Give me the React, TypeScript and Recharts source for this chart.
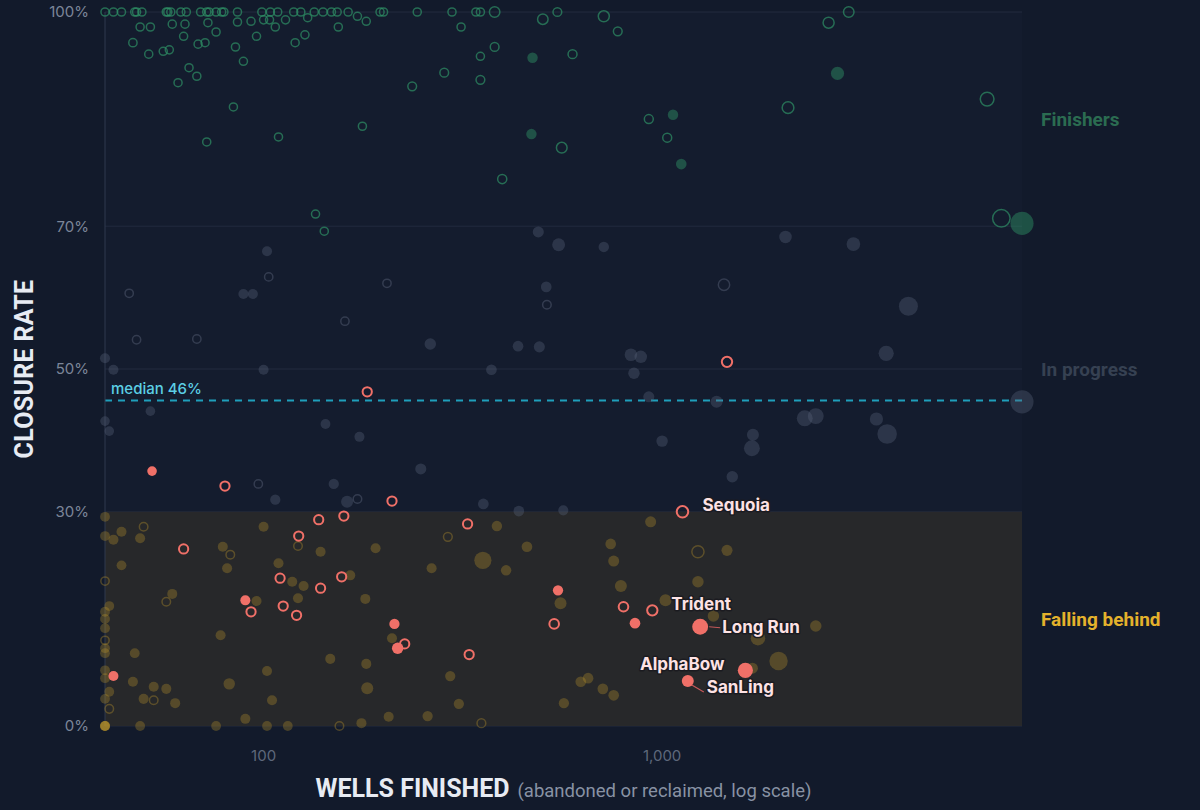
import React from 'react';
import {
  ScatterChart,
  Scatter,
  XAxis,
  YAxis,
  ZAxis,
  CartesianGrid,
  ReferenceArea,
  ReferenceLine,
} from 'recharts';

// [wells finished, closure rate %, wells licensed, solid (1) or open (0)]
type Pt = [number, number, number, number];
// [operator, wells finished, closure rate %, wells licensed, solid]
type Named = [string, number, number, number, number];

const X_TICKS = [100, 1000];
const Y_TICKS = [0, 30, 50, 70, 100];
const MEDIAN_RATE = 45.6;

const finishers: Pt[] = [
  [40, 100, 300, 0], [42, 100, 300, 0], [44, 100, 300, 0], [47.5, 100, 300, 0], [48, 100, 300, 0],
  [49.5, 100, 300, 0], [57, 100, 300, 0], [57.5, 100, 300, 0], [58.5, 100, 300, 0], [62, 100, 300, 0],
  [64, 100, 300, 0], [69.5, 100, 300, 0], [72, 100, 300, 0], [73, 100, 300, 0], [76, 100, 300, 0],
  [78.5, 100, 300, 0], [79.5, 100, 300, 0], [86, 100, 300, 0], [99, 100, 300, 0], [104, 100, 300, 0],
  [108.5, 100, 300, 0], [119, 100, 300, 0], [124, 100, 300, 0], [134, 100, 300, 0], [141, 100, 300, 0],
  [148, 100, 300, 0], [153, 100, 300, 0], [163, 100, 300, 0], [196, 100, 300, 0], [200, 100, 300, 0],
  [243, 100, 300, 0], [297, 100, 300, 0], [341, 100, 300, 0], [350, 100, 300, 0], [380, 100, 1500, 0],
  [546, 100, 600, 0], [2940, 100, 1500, 0], [172, 99.4, 300, 0], [181, 98.7, 300, 0], [714, 99.4, 1800, 0],
  [502, 99.0, 1500, 0], [2617, 98.5, 1800, 0],
  [49, 97.9, 300, 0], [52, 97.9, 300, 0], [47, 95.7, 400, 0], [51.5, 94.1, 300, 0], [56, 94.5, 300, 0],
  [58, 94.7, 300, 0], [59, 98.3, 300, 0], [63.5, 98.3, 300, 0], [63, 96.6, 300, 0], [65, 92.2, 300, 0],
  [68, 91.0, 300, 0], [61, 90.1, 300, 0], [68.5, 95.5, 300, 0], [71.3, 95.7, 300, 0], [72.5, 98.5, 300, 0],
  [76, 97.2, 300, 0], [85, 95.1, 300, 0], [86, 98.6, 300, 0], [89, 93.1, 300, 0], [93, 98.7, 300, 0],
  [96, 96.6, 300, 0], [100, 98.9, 300, 0], [103.5, 98.9, 300, 0], [107, 97.9, 300, 0], [113.5, 98.9, 300, 0],
  [120, 95.7, 300, 0], [127, 96.8, 300, 0], [129, 99.2, 300, 0], [154, 97.9, 300, 0], [84, 86.7, 300, 0],
  [72, 81.8, 300, 0], [109, 82.5, 300, 0], [177, 84.0, 300, 0], [135, 71.7, 300, 0], [142, 69.3, 300, 0],
  [313, 97.9, 300, 0], [350, 93.8, 300, 0], [380, 95.1, 600, 0], [350, 90.5, 600, 0], [284, 91.5, 600, 0],
  [236, 89.6, 600, 0], [397, 76.6, 800, 0], [596, 94.1, 700, 0], [560, 81.0, 1600, 0], [774, 97.3, 600, 0],
  [926, 85.0, 700, 0], [1030, 82.4, 700, 0], [2070, 86.6, 2200, 0], [6540, 87.8, 3500, 0], [7100, 71.1, 6500, 0],
  [473, 93.6, 700, 1], [470, 82.9, 700, 1], [1065, 85.6, 700, 1], [1117, 78.7, 800, 1], [2755, 91.4, 2200, 1],
  [8000, 70.4, 10500, 1],
];

const inProgress: Pt[] = [
  [40, 51.5, 500, 1], [42, 49.9, 500, 1], [52, 44.1, 300, 1], [40, 42.7, 300, 1], [41, 41.3, 300, 1],
  [89, 60.5, 500, 1], [94, 60.5, 500, 1], [102, 66.5, 500, 1], [100, 49.9, 500, 1], [143, 42.3, 400, 1],
  [174, 40.5, 500, 1], [248, 36.0, 1000, 1], [150, 33.9, 600, 1], [162, 31.4, 1500, 1], [107, 31.7, 600, 1],
  [262, 53.5, 1200, 1], [373, 49.9, 800, 1], [356, 31.1, 800, 1], [435, 53.2, 800, 1], [492, 53.1, 1000, 1],
  [512, 61.5, 800, 1], [489, 69.2, 1000, 1], [550, 67.4, 2000, 1], [437, 30.1, 800, 1], [565, 30.2, 500, 1],
  [714, 67.1, 700, 1], [2040, 68.5, 1800, 1], [3020, 67.5, 2500, 1], [4150, 58.8, 6500, 1], [835, 52.0, 1800, 1],
  [884, 51.7, 1800, 1], [850, 49.4, 1200, 1], [3650, 52.2, 3500, 1], [926, 46.1, 1000, 1], [1370, 45.4, 1500, 1],
  [8000, 45.4, 10500, 1], [2280, 43.1, 4000, 1], [2430, 43.4, 4000, 1], [3450, 43.0, 2200, 1], [3670, 40.9, 7000, 1],
  [1690, 40.8, 1500, 1], [1680, 38.9, 4000, 1], [1000, 39.9, 1200, 1], [1500, 34.9, 1200, 1],
  [46, 60.6, 400, 0], [48, 54.1, 400, 0], [68, 54.2, 400, 0], [103, 62.9, 400, 0], [160, 56.7, 400, 0],
  [204, 62.0, 400, 0], [514, 59.0, 500, 0], [172, 31.8, 500, 0], [97, 33.9, 400, 0], [1430, 61.8, 2000, 0],
];

const fallingBehind: Pt[] = [
  [40, 29.3, 400, 1], [40, 26.6, 400, 1], [42, 26.1, 500, 1], [44, 27.2, 500, 1], [49, 26.3, 500, 1],
  [44, 22.5, 400, 1], [41, 16.8, 400, 1], [40, 16.0, 400, 1], [40, 15.0, 400, 1], [40, 13.7, 400, 1],
  [40, 10.9, 400, 1], [40, 10.2, 400, 1], [40, 7.8, 400, 1], [40, 6.7, 400, 1], [41, 4.8, 400, 1],
  [40, 3.8, 400, 1], [40, 0, 400, 1], [40, 0, 400, 1], [40, 0, 400, 1], [40, 0, 400, 1],
  [47.5, 10.2, 400, 1], [47, 6.2, 500, 1], [53, 5.5, 500, 1], [57, 5.2, 500, 1], [50, 3.8, 500, 1],
  [60, 3.2, 500, 1], [49, 0, 400, 1], [59, 18.5, 500, 1], [78, 12.7, 500, 1], [82, 5.9, 1200, 1],
  [76, 0, 400, 1], [79, 25.1, 500, 1], [81, 22.1, 500, 1], [90, 1.0, 500, 1], [100, 27.9, 500, 1],
  [102, 7.7, 500, 1], [105, 3.6, 500, 1], [102, 0, 400, 1], [109, 22.8, 500, 1], [118, 20.2, 500, 1],
  [126, 19.6, 500, 1], [122, 17.9, 500, 1], [96, 17.5, 500, 1], [139, 24.4, 500, 1], [147, 9.4, 500, 1],
  [115, 0, 400, 1], [165, 21.1, 500, 1], [180, 17.8, 500, 1], [191, 24.9, 500, 1], [181, 8.7, 500, 1],
  [182, 5.3, 1500, 1], [176, 0.4, 500, 1], [206, 1.3, 500, 1], [210, 12.3, 500, 1], [385, 28.0, 700, 1],
  [458, 25.1, 800, 1], [355, 23.2, 5000, 1], [264, 22.1, 500, 1], [406, 21.8, 700, 1], [556, 17.2, 1500, 1],
  [743, 25.5, 800, 1], [756, 23.1, 1000, 1], [788, 19.6, 1500, 1], [936, 28.6, 1000, 1], [1455, 24.6, 1000, 1],
  [1230, 20.2, 1200, 1], [1020, 17.6, 1500, 1], [1345, 15.4, 1200, 1], [1740, 12.3, 3000, 1], [2430, 14.0, 1200, 1],
  [1960, 9.1, 6000, 1], [1685, 8.1, 1000, 1], [294, 7.0, 600, 1], [309, 3.1, 600, 1], [258, 1.4, 600, 1],
  [567, 3.2, 600, 1], [625, 6.2, 800, 1], [652, 6.7, 800, 1], [710, 5.2, 800, 1], [756, 4.3, 800, 1],
  [50, 27.9, 500, 0], [40, 20.3, 400, 0], [40, 12.0, 400, 0], [41, 2.4, 500, 0], [57, 17.4, 500, 0],
  [82.5, 24.0, 500, 0], [122, 25.2, 500, 0], [155, 0, 500, 0], [53, 3.6, 500, 0], [290, 26.5, 600, 0],
  [352, 0.4, 600, 0], [1230, 24.4, 2500, 0],
];

const flagged: Named[] = [
  ['', 42, 7.0, 500, 1], ['', 52.5, 35.7, 300, 1], ['', 90, 17.6, 500, 1], ['', 213, 14.3, 600, 1],
  ['', 217, 10.9, 1200, 1], ['', 548, 19.0, 600, 1], ['', 855, 14.4, 800, 1],
  ['Long Run', 1246, 13.9, 4000, 1], ['AlphaBow', 1618, 7.8, 3500, 1], ['SanLing', 1160, 6.3, 1500, 1],
  ['', 182, 46.8, 1100, 0], ['', 63, 24.8, 1100, 0], ['', 80, 33.6, 1100, 0], ['', 93, 16.0, 1100, 0],
  ['', 110, 20.7, 1100, 0], ['', 112, 16.8, 1100, 0], ['', 121, 15.5, 1100, 0], ['', 122.5, 26.6, 1100, 0],
  ['', 137.5, 28.9, 1100, 0], ['', 139, 19.3, 1100, 0], ['', 159, 29.4, 1100, 0], ['', 157, 20.9, 1100, 0],
  ['', 210, 31.5, 1100, 0], ['', 226, 11.5, 1100, 0], ['', 325, 28.3, 1100, 0], ['', 328, 10.0, 1100, 0],
  ['', 536, 14.3, 1300, 0], ['', 800, 16.7, 1300, 0], ['', 1455, 51.0, 1700, 0],
  ['Sequoia', 1125, 30.0, 2400, 0], ['Trident', 945, 16.2, 1700, 0],
];

const BAND_LABELS = [
  { y: 85, text: 'Finishers', color: '#2b6c51' },
  { y: 50, text: 'In progress', color: '#364152' },
  { y: 15, text: 'Falling behind', color: '#e4b22c' },
];

const LABEL_POS: Record<string, { dx: number; dy: number; anchor: 'start' | 'end'; leader?: number[] }> = {
  Sequoia: { dx: 20, dy: -7, anchor: 'start' },
  Trident: { dx: 19, dy: -6, anchor: 'start' },
  'Long Run': { dx: 22, dy: 0, anchor: 'start', leader: [9, 0, 20, 1] },
  AlphaBow: { dx: -21, dy: -6, anchor: 'end' },
  SanLing: { dx: 19, dy: 6, anchor: 'start', leader: [4, 4, 16, 11] },
};

const toRows = (pts: Pt[]) =>
  pts.map(([wells, rate, licensed, solid]) => ({ wells, rate, licensed, solid }));
const flaggedRows = flagged.map(([name, wells, rate, licensed, solid]) => ({ name, wells, rate, licensed, solid }));
const namedRows = flaggedRows.filter((r) => r.name);

const makeDot = (color: string, fillOpacity: number, strokeOpacity: number, strokeWidth: number) =>
  (props: any) => {
    const { cx, cy, payload } = props;
    if (cx == null || cy == null) return <g />;
    const r = props.width ? props.width / 2 : Math.sqrt((props.size ?? 64) / Math.PI);
    if (payload.solid) {
      return <circle cx={cx} cy={cy} r={r} fill={color} fillOpacity={fillOpacity} />;
    }
    return (
      <circle
        cx={cx}
        cy={cy}
        r={Math.max(r - strokeWidth / 2, 1)}
        fill="none"
        stroke={color}
        strokeOpacity={strokeOpacity}
        strokeWidth={strokeWidth}
      />
    );
  };

const nameLabel = (props: any) => {
  const { cx, cy, payload } = props;
  const pos = LABEL_POS[payload?.name];
  if (cx == null || !pos) return <g />;
  return (
    <g>
      {pos.leader && (
        <line
          x1={cx + pos.leader[0]}
          y1={cy + pos.leader[1]}
          x2={cx + pos.leader[2]}
          y2={cy + pos.leader[3]}
          stroke="#c4585a"
          strokeWidth={1.2}
        />
      )}
      <text
        x={cx + pos.dx}
        y={cy + pos.dy}
        textAnchor={pos.anchor}
        dominantBaseline="central"
        fontSize={17}
        fontWeight={700}
        fill="#fde2e4"
        stroke="#1b1b20"
        strokeWidth={3}
        strokeLinejoin="round"
        paintOrder="stroke"
      >
        {payload.name}
      </text>
    </g>
  );
};

export default function App() {
  return (
    <div
      style={{
        position: 'relative',
        width: 1200,
        height: 810,
        background: '#121a2b',
        fontFamily: 'Inter, "Noto Sans", sans-serif',
      }}
    >
      <style>{'body{margin:0;background:#121a2b;}'}</style>
      <ScatterChart width={1200} height={810} margin={{ top: 12, right: 178, bottom: 54, left: 0 }}>
        <CartesianGrid vertical={false} stroke="#222b3f" fill="#141c2e" />
        <XAxis
          type="number"
          dataKey="wells"
          scale="log"
          domain={[40, 8000]}
          ticks={X_TICKS}
          tickFormatter={(v: number) => v.toLocaleString('en-US')}
          axisLine={false}
          tickLine={false}
          tickMargin={18}
          height={30}
          tick={{ fill: '#5e687b', fontSize: 15 }}
        />
        <YAxis
          type="number"
          dataKey="rate"
          domain={[0, 100]}
          ticks={Y_TICKS}
          tickFormatter={(v: number) => `${v}%`}
          width={105}
          axisLine={{ stroke: '#2e394e' }}
          tickLine={false}
          tickMargin={10}
          tick={{ fill: '#7c8699', fontSize: 15 }}
        />
        <ZAxis type="number" dataKey="licensed" domain={[0, 12000]} range={[62, 470]} />
        <ReferenceArea x1={40} x2={8000} y1={0} y2={30} fill="#2a2a2a" fillOpacity={0.88} stroke="none" />
        {BAND_LABELS.map((b) => (
          <ReferenceLine
            key={b.text}
            y={b.y}
            stroke="none"
            label={{
              value: b.text,
              position: 'right',
              offset: 19,
              fill: b.color,
              fontSize: 19,
              fontWeight: 700,
              fontFamily: 'Roboto, sans-serif',
            }}
          />
        ))}
        <Scatter data={toRows(fallingBehind)} shape={makeDot('#c49a2c', 0.3, 0.34, 1.5)} isAnimationActive={false} />
        <Scatter data={toRows(inProgress)} shape={makeDot('#5a6479', 0.36, 0.45, 1.5)} isAnimationActive={false} />
        <Scatter data={toRows(finishers)} shape={makeDot('#2f9467', 0.45, 0.68, 1.5)} isAnimationActive={false} />
        <ReferenceLine
          y={MEDIAN_RATE}
          stroke="#1f9fbb"
          strokeWidth={2}
          strokeDasharray="7 6"
          label={{
            value: `median ${Math.round(MEDIAN_RATE)}%`,
            position: 'insideBottomLeft',
            offset: 6,
            fill: '#5ccfe5',
            fontSize: 15,
            fontWeight: 500,
          }}
        />
        <Scatter data={flaggedRows} shape={makeDot('#f07068', 1, 1, 2)} isAnimationActive={false} />
        <Scatter data={namedRows} shape={nameLabel} isAnimationActive={false} />
      </ScatterChart>
      <div
        style={{
          position: 'absolute',
          left: 24,
          top: 369,
          transform: 'translate(-50%, -50%) rotate(-90deg)',
          whiteSpace: 'nowrap',
          fontFamily: 'Roboto, sans-serif',
          fontWeight: 700,
          fontSize: 25,
          color: '#e7ebf3',
          letterSpacing: 0.3,
        }}
      >
        CLOSURE RATE
      </div>
      <div
        style={{
          position: 'absolute',
          left: 105,
          width: 917,
          top: 774,
          textAlign: 'center',
          whiteSpace: 'nowrap',
          fontFamily: 'Roboto, sans-serif',
          color: '#e7ebf3',
        }}
      >
        <span style={{ fontWeight: 700, fontSize: 25 }}>WELLS FINISHED</span>
        <span style={{ fontSize: 18.5, color: '#8892a4', marginLeft: 8 }}>(abandoned or reclaimed, log scale)</span>
      </div>
    </div>
  );
}
